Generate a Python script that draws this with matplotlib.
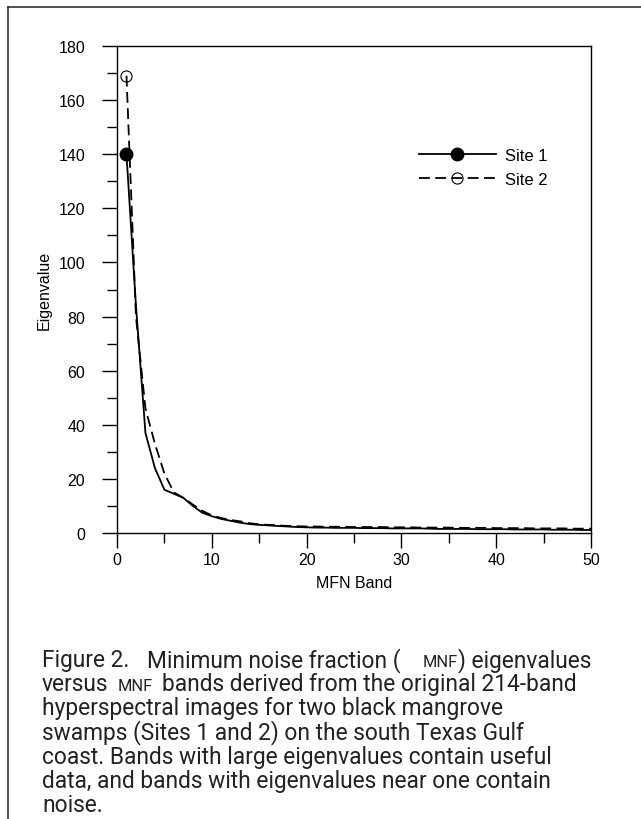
import matplotlib
matplotlib.use("Agg")
import matplotlib.pyplot as plt
from matplotlib.lines import Line2D
from matplotlib.ticker import MultipleLocator

# MNF band index
bands = list(range(1, 51))

# Eigenvalues per MNF band
site1 = [140, 84, 37, 24, 16, 14.5, 13, 10, 7.5, 6.2,
         5.2, 4.5, 3.8, 3.3, 3.0, 2.8, 2.6, 2.4, 2.2, 2.1,
         2.0, 2.0, 1.9, 1.9, 1.9, 1.8, 1.8, 1.8, 1.7, 1.7,
         1.7, 1.7, 1.6, 1.5, 1.5, 1.5, 1.5, 1.4, 1.4, 1.4,
         1.4, 1.3, 1.3, 1.3, 1.3, 1.2, 1.2, 1.2, 1.1, 1.1]
site2 = [169, 80, 46, 33, 22, 15, 13, 10.5, 8.2, 6.5,
         5.5, 4.8, 4.3, 3.6, 3.2, 3.0, 2.8, 2.6, 2.5, 2.4,
         2.4, 2.3, 2.3, 2.3, 2.2, 2.2, 2.2, 2.2, 2.1, 2.1,
         2.1, 2.0, 2.0, 2.0, 2.0, 1.9, 1.9, 1.9, 1.9, 1.8,
         1.8, 1.8, 1.8, 1.7, 1.7, 1.7, 1.7, 1.6, 1.6, 1.6]

series_labels = ["Site 1", "Site 2"]
x_label = "MFN Band"
y_label = "Eigenvalue"

# caption text; "s" pieces are set in small capitals, numbers are gaps in pixels
caption_lines = [
    [("Figure 2.", "b"), 18, ("Minimum noise fraction (", "b"), 22, ("MNF", "s"), (") eigenvalues", "b")],
    [("versus", "b"), 9, ("MNF", "s"), 9, ("bands derived from the original 214-band", "b")],
    [("hyperspectral images for two black mangrove", "b")],
    [("swamps (Sites 1 and 2) on the south Texas Gulf", "b")],
    [("coast. Bands with large eigenvalues contain useful", "b")],
    [("data, and bands with eigenvalues near one contain", "b")],
    [("noise.", "b")],
]

W, H = 641, 820
DPI = 100
plt.rcParams["font.family"] = ["Liberation Sans", "DejaVu Sans"]

fig = plt.figure(figsize=(W / DPI, H / DPI), dpi=DPI)
fig.patch.set_facecolor("white")

# page frame along the top and left edges
fig.add_artist(Line2D([8 / W, 8 / W], [0, 1 - 8 / H], transform=fig.transFigure,
                      color="#333333", lw=1.2))
fig.add_artist(Line2D([8 / W, 1], [1 - 8 / H, 1 - 8 / H], transform=fig.transFigure,
                      color="#333333", lw=1.2))

left, right, top, bottom = 117, 591, 47, 534
aw, ah = right - left, bottom - top
ax = fig.add_axes([left / W, 1 - bottom / H, aw / W, ah / H])

ax.plot(bands, site1, color="black", lw=1.3, marker="o", markevery=[0],
        markersize=9, markerfacecolor="black", label=series_labels[0])
ax.plot(bands, site2, color="black", lw=1.3, ls=(0, (6, 3)), marker="o",
        markevery=[0], markersize=8, markerfacecolor="none", markeredgewidth=0.8,
        label=series_labels[1])

ax.set_xlim(0, 50)
ax.set_ylim(0, 180)
ax.xaxis.set_major_locator(MultipleLocator(10))
ax.xaxis.set_minor_locator(MultipleLocator(5))
ax.yaxis.set_major_locator(MultipleLocator(20))
ax.yaxis.set_minor_locator(MultipleLocator(10))
fs = 11.5
ax.tick_params(which="major", direction="out", length=11, width=1, labelsize=fs)
ax.tick_params(which="minor", direction="out", length=7.5, width=1)
ax.tick_params(axis="x", which="major", pad=3)
ax.tick_params(axis="y", which="major", pad=12)
for sp in ax.spines.values():
    sp.set_linewidth(1)

ax.set_xlabel(x_label, fontsize=fs, va="center")
ax.set_ylabel(y_label, fontsize=fs, va="center")
ax.xaxis.set_label_coords(0.5, -(583 - bottom) / ah)
ax.yaxis.set_label_coords(-(left - 44) / aw, 0.5)

leg = ax.legend(loc="upper left",
                bbox_to_anchor=((419 - left) / aw, 1 - (149 - top) / ah),
                frameon=False, fontsize=12, handlelength=4.6, handletextpad=0.55,
                labelspacing=0.55, borderpad=0, borderaxespad=0, numpoints=1)

# caption, scaled so the first line spans from the page margin to just past the axes
renderer = fig.canvas.get_renderer()
cap_family = ["Roboto", "DejaVu Sans"]
cap_left, cap_right = 42, right + 6


def line_width(pieces, base, small):
    w = 0.0
    for p in pieces:
        if isinstance(p, (int, float)):
            w += p
            continue
        s, kind = p
        t = fig.text(0, 0, s, fontsize=base if kind == "b" else small,
                     family=cap_family, weight="normal")
        w += t.get_window_extent(renderer).width
        t.remove()
    return w


base0 = 14.0
gaps = sum(p for p in caption_lines[0] if isinstance(p, (int, float)))
w0 = line_width(caption_lines[0], base0, base0 * 0.72) - gaps
scale = (cap_right - cap_left - gaps) / w0
big = base0 * scale
small = big * 0.72

y0, dy = 667, 24.2
for i, pieces in enumerate(caption_lines):
    x = cap_left
    y = y0 + i * dy
    for p in pieces:
        if isinstance(p, (int, float)):
            x += p
            continue
        s, kind = p
        t = fig.text(x / W, 1 - y / H, s, fontsize=big if kind == "b" else small,
                     family=cap_family, weight="normal", va="baseline", ha="left",
                     color="#222222")
        x += t.get_window_extent(renderer).width

fig.savefig("out.png", dpi=DPI)
